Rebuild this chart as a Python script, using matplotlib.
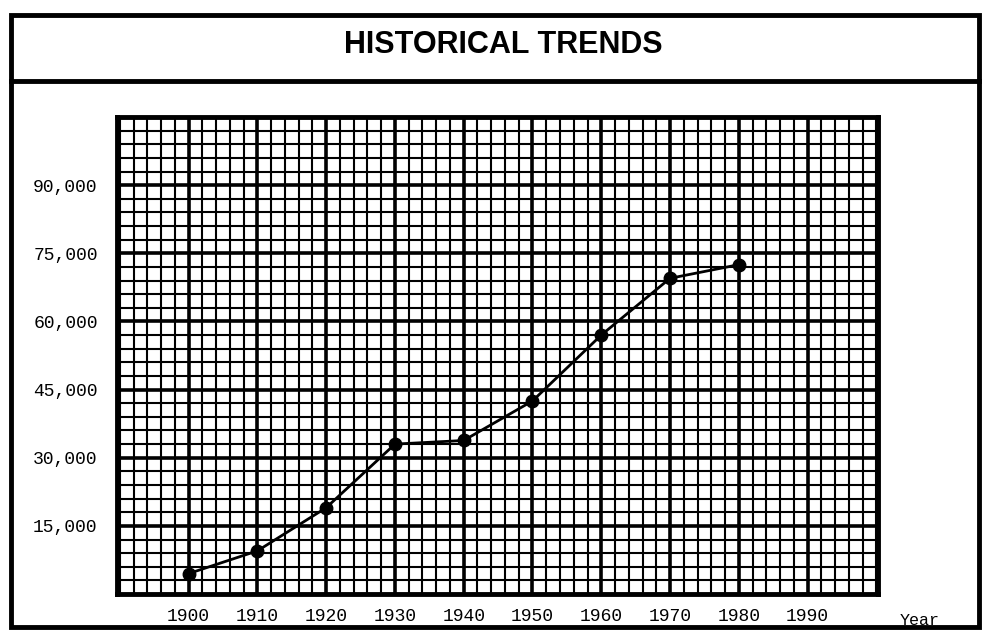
import numpy as np
import matplotlib
matplotlib.use("Agg")
import matplotlib.pyplot as plt
from matplotlib.patches import Rectangle
from matplotlib.lines import Line2D

# Chart data
years = [1900, 1910, 1920, 1930, 1940, 1950, 1960, 1970, 1980]
values = [4500, 9500, 19000, 33000, 33800, 42500, 57000, 69500, 72500]

year_ticks = [1900, 1910, 1920, 1930, 1940, 1950, 1960, 1970, 1980, 1990]
year_labels = ["1900", "1910", "1920", "1930", "1940", "1950", "1960", "1970", "1980", "1990"]
value_ticks = [15000, 30000, 45000, 60000, 75000, 90000]
value_labels = ["15,000", "30,000", "45,000", "60,000", "75,000", "90,000"]

TITLE = "HISTORICAL TRENDS"
MONO = ["Liberation Mono", "DejaVu Sans Mono"]


def draw_frame(fig):
	# outer box round the whole sheet
	fig.add_artist(Rectangle((0.011, 0.014), 0.984, 0.962, transform=fig.transFigure,
		fill=False, edgecolor="black", linewidth=3.5))
	# line under the title strip
	fig.add_artist(Line2D([0.011, 0.995], [0.872, 0.872], transform=fig.transFigure,
		color="black", linewidth=3.5))
	fig.text(0.512, 0.930, TITLE, ha="center", va="center", fontsize=22, fontweight="bold",
		family=["Liberation Sans", "DejaVu Sans"])


def draw_graph(ax):
	ax.set_xlim(1889.6, 2000.2)
	ax.set_ylim(0, 105000)

	# graph paper: heavy lines every decade / 15,000, light ones every 2 years / 3,000
	ax.set_xticks(year_ticks)
	ax.set_xticklabels(year_labels, family=MONO, fontsize=13)
	ax.set_xticks(np.arange(1890, 2001, 2), minor=True)
	ax.set_yticks(value_ticks)
	ax.set_yticklabels(value_labels, family=MONO, fontsize=13)
	ax.set_yticks(np.arange(0, 105001, 3000), minor=True)
	ax.grid(which="major", color="black", linewidth=2.6)
	ax.grid(which="minor", color="black", linewidth=1.5)
	ax.set_axisbelow(True)
	ax.tick_params(which="both", length=0)
	ax.tick_params(axis="x", pad=10)
	ax.tick_params(axis="y", pad=14)

	for s in ax.spines.values():
		s.set_linewidth(3.5)

	ax.plot(years, values, color="black", linewidth=2, marker="o", markersize=9, zorder=5)


def main():
	fig = plt.figure(figsize=(9.84, 6.36), dpi=100)
	ax = fig.add_axes([0.119, 0.066, 0.773, 0.750])
	draw_frame(fig)
	draw_graph(ax)
	fig.text(0.935, 0.024, "Year", ha="center", va="center", fontsize=12, family=MONO)
	fig.savefig("out.png", dpi=100, facecolor="white")
	plt.close()


if __name__ == "__main__":
	main()
